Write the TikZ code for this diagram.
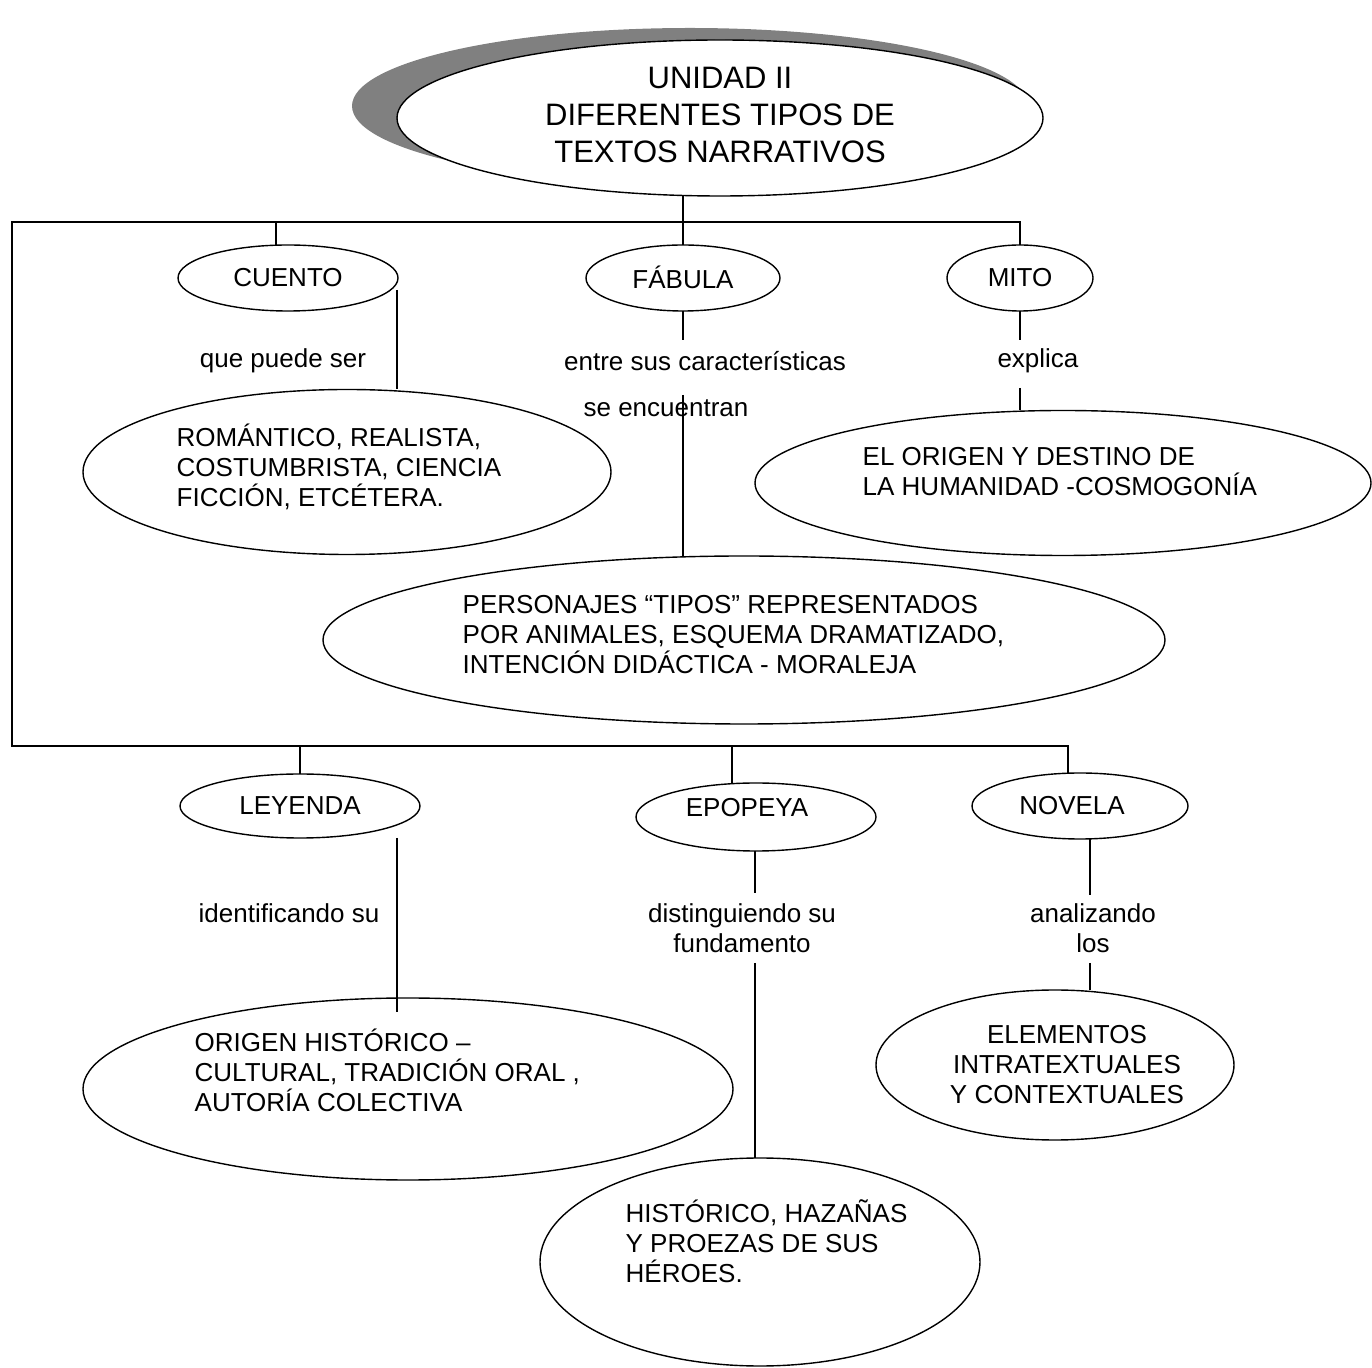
\documentclass[tikz,border=0pt]{standalone}
\usepackage{fontspec}
\setmainfont{Liberation Sans}
\usetikzlibrary{shapes.geometric}
\begin{document}
\begin{tikzpicture}[x=0.5pt,y=-0.5pt,line width=0.7pt,
  oval/.style={ellipse,draw,fill=white,inner sep=0pt,outer sep=0pt,font=\fontsize{13}{15}\selectfont},
  txt/.style={align=left,inner sep=0pt,font=\fontsize{13}{15}\selectfont},
  lbl/.style={align=center,inner sep=0pt,font=\fontsize{13}{15}\selectfont}]
\useasboundingbox (0,0) rectangle (1372,1368);
% title with shadow
\node[ellipse,fill=black!50,minimum width=338pt,minimum height=78pt,inner sep=0pt] (shade) at (690,106) {};
\node[oval,minimum width=323pt,minimum height=78pt] (title) at (720,118) {};
\node[lbl,font=\fontsize{15.5}{18.5}\selectfont] (titletxt) at (720,115) {UNIDAD II\\DIFERENTES TIPOS DE\\TEXTOS NARRATIVOS};
% upper row
\node[oval,minimum width=110pt,minimum height=33pt] (cuento) at (288,278) {CUENTO};
\node[oval,minimum width=97pt,minimum height=33pt] (fabula) at (683,278) {};
\node[lbl] (tfabula) at (683,277) {FÁBULA};
\node[oval,minimum width=73pt,minimum height=33pt] (mito) at (1020,278) {MITO};
\node[lbl] (lcuento) at (283,361) {que puede ser};
\node[lbl] (lfabula) at (705,361) {entre sus características};
\node[lbl] (lfabulab) at (666,408) {se encuentran};
\node[lbl] (lmito) at (1038,361) {explica};
\node[oval,minimum width=264pt,minimum height=82.5pt] (romantico) at (347,472) {};
\node[txt,anchor=west] (tromantico) at (176,467) {ROMÁNTICO, REALISTA,\\COSTUMBRISTA, CIENCIA\\FICCIÓN, ETCÉTERA.};
\node[oval,minimum width=308pt,minimum height=72.5pt] (cosmos) at (1063,483) {};
\node[txt,anchor=west] (tcosmos) at (862,472) {EL ORIGEN Y DESTINO DE\\LA HUMANIDAD -COSMOGONÍA};
\node[oval,minimum width=421pt,minimum height=84pt] (personajes) at (744,640) {};
\node[txt,anchor=west] (tpersonajes) at (462,635) {PERSONAJES “TIPOS” REPRESENTADOS\\POR ANIMALES, ESQUEMA DRAMATIZADO,\\INTENCIÓN DIDÁCTICA - MORALEJA};
% lower row
\node[oval,minimum width=120pt,minimum height=32pt] (leyenda) at (300,806) {LEYENDA};
\node[oval,minimum width=120pt,minimum height=34pt] (epopeya) at (756,817) {};
\node[lbl] (tepopeya) at (747,808) {EPOPEYA};
\node[oval,minimum width=108pt,minimum height=33pt] (novela) at (1080,806) {};
\node[lbl] (tnovela) at (1072,806) {NOVELA};
\node[lbl] (lleyenda) at (289,913) {identificando su};
\node[lbl] (lepopeya) at (742,928) {distinguiendo su\\fundamento};
\node[lbl] (lnovela) at (1093,928) {analizando\\los};
\node[oval,minimum width=325pt,minimum height=91pt] (historia) at (408,1089) {};
\node[txt,anchor=west] (thistoria) at (194,1070) {ORIGEN HISTÓRICO –\\CULTURAL, TRADICIÓN ORAL ,\\AUTORÍA COLECTIVA};
\node[oval,minimum width=179pt,minimum height=75pt] (elementos) at (1055,1065) {};
\node[lbl] (telementos) at (1067,1065) {ELEMENTOS\\INTRATEXTUALES\\Y CONTEXTUALES};
\node[oval,minimum width=220pt,minimum height=104pt] (heroes) at (760,1262) {};
\node[txt,anchor=west] (theroes) at (625,1241) {HISTÓRICO, HAZAÑAS\\Y PROEZAS DE SUS\\HÉROES.};
% bus lines
\coordinate (tl) at (12,222); \coordinate (tr) at (1020,222);
\coordinate (bl) at (12,746); \coordinate (br) at (1068,746);
\coordinate (cj) at (276,222); \coordinate (ej) at (732,746);
\draw (title.south -| fabula.north) -- (fabula.north);
\draw (mito.north) -- (tr) -- (tl) -- (bl) -- (br) -- (br |- novela.north);
\draw (cj) -- (cj |- cuento.north);
\draw (leyenda.north |- bl) -- (leyenda.north);
\draw (ej) -- (ej |- epopeya.north);
% connectors with labels
\coordinate (c1) at (397,290);
\draw (c1) -- (c1 |- romantico.north);
\coordinate (f1) at (683,340); \coordinate (f2) at (683,395);
\draw (fabula.south) -- (f1);
\draw (f2) -- (f2 |- personajes.north);
\coordinate (m1) at (1020,340); \coordinate (m2) at (1020,388);
\draw (mito.south) -- (m1);
\draw (m2) -- (m2 |- cosmos.north);
\coordinate (l1) at (397,838); \coordinate (l2) at (397,1012);
\draw (l1) -- (l2);
\coordinate (e1) at (755,893); \coordinate (e2) at (755,963);
\draw (e1 |- epopeya.south) -- (e1);
\draw (e2) -- (e2 |- heroes.north);
\coordinate (n1) at (1090,895); \coordinate (n2) at (1090,963);
\draw (n1 |- novela.south) -- (n1);
\draw (n2) -- (n2 |- elementos.north);
\end{tikzpicture}
\end{document}
